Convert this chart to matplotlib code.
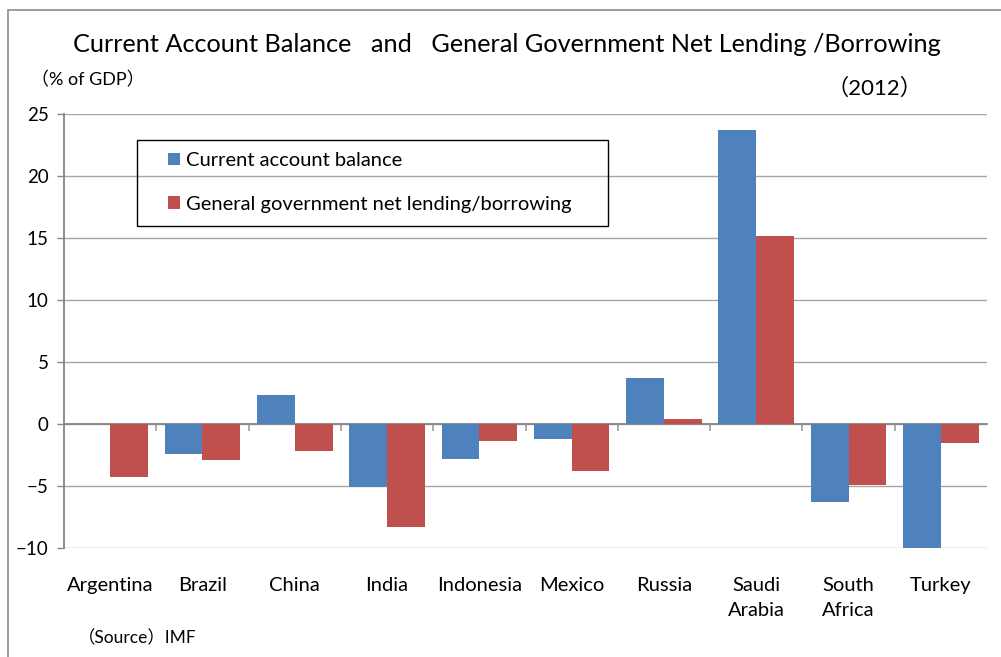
import numpy as np
import matplotlib
matplotlib.use('Agg')
import matplotlib.pyplot as plt
from matplotlib.patches import Rectangle

# data, % of GDP (2012)
countries = ['Argentina', 'Brazil', 'China', 'India', 'Indonesia', 'Mexico',
             'Russia', 'Saudi\nArabia', 'South\nAfrica', 'Turkey']
current_account = [0.0, -2.4, 2.3, -5.1, -2.8, -1.2, 3.7, 23.7, -6.3, -10.0]
gov_lending = [-4.3, -2.9, -2.2, -8.3, -1.4, -3.8, 0.4, 15.2, -4.9, -1.5]

BLUE = '#4F81BD'
RED = '#C0504D'
GRID = '#a6a6a6'
FONT = ['Lato', 'Noto Sans CJK JP', 'DejaVu Sans']

plt.rcParams['font.family'] = FONT

W, H = 1001, 657
fig = plt.figure(figsize=(W / 100, H / 100), dpi=100)
ax = fig.add_axes([64 / W, 1 - 548 / H, (987 - 64) / W, (548 - 114) / H])

x = np.arange(len(countries))
bw = 0.41
ax.bar(x - bw / 2, current_account, bw, color=BLUE, label='Current account balance', zorder=3)
ax.bar(x + bw / 2, gov_lending, bw, color=RED, label='General government net lending/borrowing', zorder=3)

ax.set_xlim(-0.5, len(countries) - 0.5)
ax.set_ylim(-10, 25)
ax.set_yticks(np.arange(-10, 26, 5))
ax.yaxis.grid(True, color=GRID, linewidth=1)
ax.set_axisbelow(True)

for s in ['top', 'right']:
    ax.spines[s].set_visible(False)
ax.spines['left'].set_color('#868686')
ax.spines['left'].set_linewidth(1.3)
ax.spines['bottom'].set_position(('data', 0))
ax.spines['bottom'].set_color('#868686')
ax.spines['bottom'].set_linewidth(1.3)

# category boundary ticks on the zero line
ax.set_xticks(np.arange(0.5, len(countries) - 0.5, 1))
ax.set_xticklabels([])
ax.tick_params(axis='x', direction='out', length=5, color='#a6a6a6', width=1.3)
ax.tick_params(axis='y', direction='out', length=5, color='#868686', width=1,
               labelsize=13.5, pad=6)

# category names below the plot
tr = ax.get_xaxis_transform()
for i, c in enumerate(countries):
    ax.text(i, -0.067, c, transform=tr, ha='center', va='top', fontsize=14.5,
            linespacing=1.55)

# legend: frameless entries inside a drawn box
leg = ax.legend(loc='upper left', bbox_to_anchor=(168 / W, 1 - 152 / H),
                bbox_transform=fig.transFigure, borderaxespad=0, frameon=False,
                fontsize=14.5, handlelength=0.6, handleheight=0.6,
                handletextpad=0.3, labelspacing=1.32, borderpad=0)
fig.patches.append(Rectangle((137 / W, 1 - 226 / H), (608 - 137) / W, 86 / H,
                             transform=fig.transFigure, fill=False,
                             edgecolor='black', linewidth=1, zorder=5))

fig.text(507 / W, 1 - 44 / H,
         'Current Account Balance   and   General Government Net Lending /Borrowing',
         ha='center', va='center', fontsize=18.2)
fig.text(31 / W, 1 - 80 / H, '（% of GDP）', ha='left', va='center', fontsize=13)
fig.text(826 / W, 1 - 88 / H, '（2012）', ha='left', va='center', fontsize=16)
fig.text(78 / W, 1 - 638 / H, '（Source）IMF', ha='left', va='center', fontsize=12.5)

# outer chart frame
fig.patches.append(Rectangle((8 / W, -0.1), 1.2, 1.1 - 10 / H,
                             transform=fig.transFigure, fill=False,
                             edgecolor='#8c8c8c', linewidth=1.2))

fig.savefig('out.png', dpi=100)
